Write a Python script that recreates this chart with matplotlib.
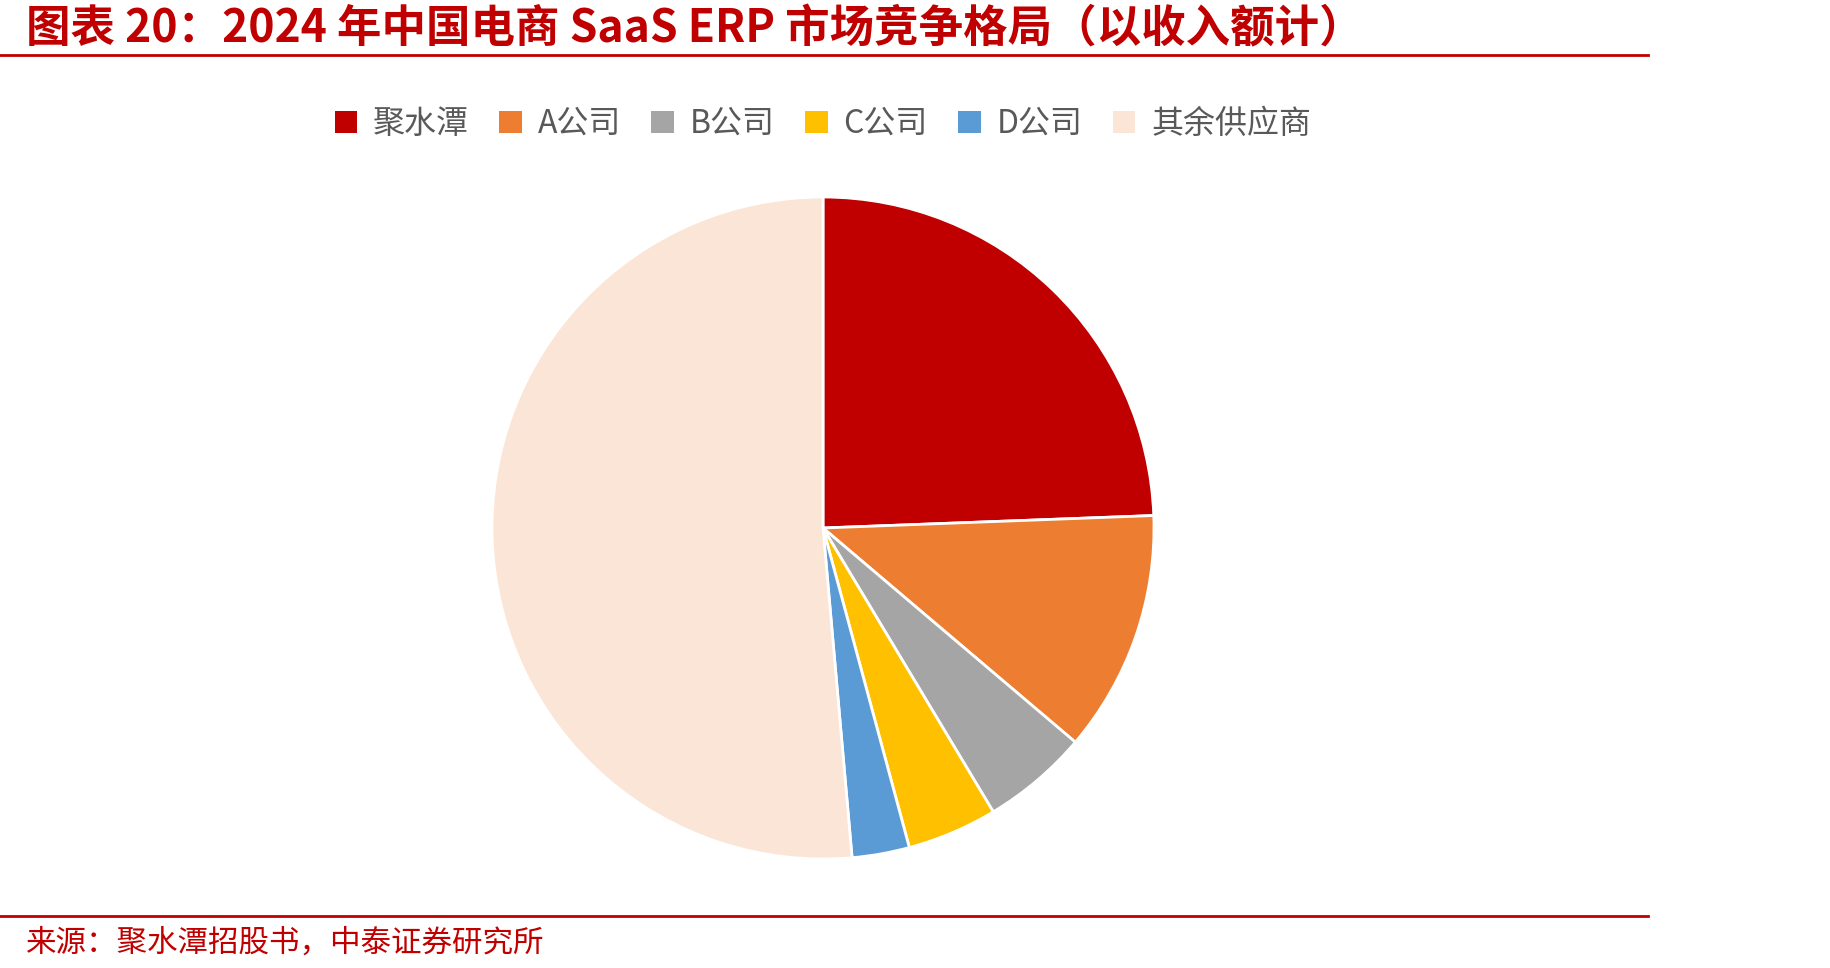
import matplotlib.pyplot as plt
from matplotlib.patches import Patch
from matplotlib.lines import Line2D

plt.rcParams['font.family'] = ['Noto Sans CJK SC', 'DejaVu Sans']

# data
labels = ['聚水潭', 'A公司', 'B公司', 'C公司', 'D公司', '其余供应商']
shares = [24.4, 11.8, 5.2, 4.4, 2.8, 51.4]
colors = ['#C00000', '#ED7D31', '#A5A5A5', '#FFC000', '#5B9BD5', '#FBE5D6']

title = '图表 20：2024 年中国电商 SaaS ERP 市场竞争格局（以收入额计）'
source = '来源：聚水潭招股书，中泰证券研究所'
red = '#C00000'

W, H = 1830, 968
fig = plt.figure(figsize=(W / 100, H / 100), dpi=100)

# pie axes (pixel layout -> figure fraction)
cx, cy, r = 823, 528, 331
ax = fig.add_axes([(cx - r) / W, (H - cy - r) / H, 2 * r / W, 2 * r / H])
ax.pie(shares, colors=colors, startangle=90, counterclock=False,
       wedgeprops=dict(edgecolor='white', linewidth=2))
ax.set_xlim(-1, 1)
ax.set_ylim(-1, 1)
ax.set_aspect('equal')
ax.axis('off')

# legend
handles = [Patch(facecolor=c, edgecolor='none') for c in colors]
fig.legend(handles, labels, loc='center', bbox_to_anchor=(cx / W, 1 - 124 / H),
           ncol=6, frameon=False, fontsize=23, labelcolor='#595959',
           handlelength=0.7, handleheight=0.7, handletextpad=0.5, columnspacing=0.95)

# title, lines, source
fig.text(26 / W, 1 - 29 / H, title, fontsize=32, fontweight='bold', color=red,
         va='center', ha='left')
fig.add_artist(Line2D([0, 1648 / W], [1 - 55 / H] * 2, color=red, lw=2))
fig.add_artist(Line2D([0, 1648 / W], [1 - 916 / H] * 2, color=red, lw=2))
fig.text(26 / W, 1 - 943 / H, source, fontsize=22, color=red, va='center', ha='left')

fig.savefig('out.png', dpi=100)
